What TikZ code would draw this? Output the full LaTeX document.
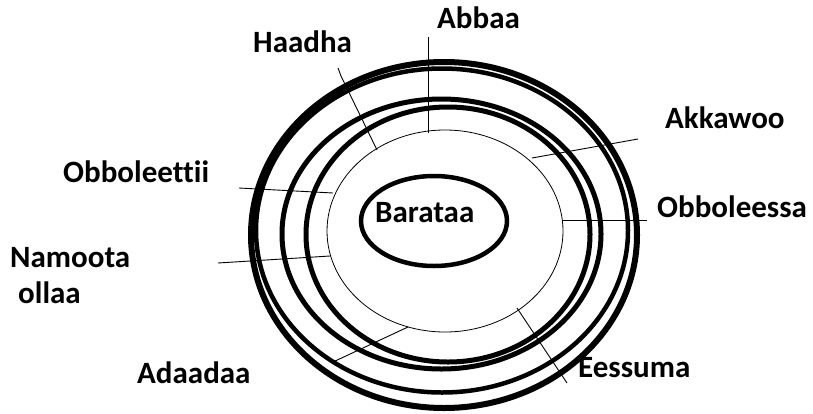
\documentclass[tikz,border=0pt]{standalone}
\usepackage{fontspec}
\newfontfamily\labfont[Ligatures={NoCommon}]{Carlito}
\tikzset{
  lab/.style={inner sep=0pt, anchor=base west, font=\labfont\bfseries\fontsize{31}{36}\selectfont},
  ring/.style={draw=black, line width=#1},
  spoke/.style={draw=black, line width=0.9pt}
}
\begin{document}
\begin{tikzpicture}[x=1pt,y=-1pt]
\useasboundingbox (0,0) rectangle (813,413);
% rings
\draw[ring=6pt] (444,235) ellipse [x radius=193pt, y radius=173pt];
\draw[ring=4.5pt] (442,230.5) ellipse [x radius=186pt, y radius=162pt];
\draw[ring=5pt] (441.5,234) ellipse [x radius=159.5pt, y radius=135pt];
\draw[ring=5pt] (448,234.5) ellipse [x radius=142pt, y radius=127.5pt];
\draw[ring=0.8pt] (445,231) ellipse [x radius=118pt, y radius=101pt];
\draw[ring=4.5pt] (434,221) ellipse [x radius=73pt, y radius=45pt];
% labels
\node[lab] (barataa) at (375,222) {Barataa};
\node[lab] (abbaa) at (437,28) {Abbaa};
\node[lab] (haadha) at (253,52) {Haadha};
\node[lab] (akkawoo) at (665,128) {Akkawoo};
\node[lab] (obboleessa) at (657,217) {Obboleessa};
\node[lab] (obboleettii) at (63,182) {Obboleettii};
\node[lab] (namoota) at (10,267) {Namoota};
\node[lab] (ollaa) at (18,303) {ollaa};
\node[lab] (adaadaa) at (137,383) {Adaadaa};
\node[lab] (eessuma) at (578,377) {Eessuma};
% spoke end points
\coordinate (ab1) at (428,37);   \coordinate (ab2) at (428,133);
\coordinate (ha1) at (338,68);   \coordinate (ha2) at (341,76);  \coordinate (ha3) at (377,150);
\coordinate (ot1) at (239,188);  \coordinate (ot2) at (333,193);
\coordinate (na1) at (218,263);  \coordinate (na2) at (330,256);
\coordinate (ad1) at (333,362);  \coordinate (ad2) at (408,327);
\coordinate (ee1) at (517,308);  \coordinate (ee2) at (567,383);
\coordinate (ak1) at (638,139);  \coordinate (ak2) at (532,158);
\coordinate (os1) at (562,220);  \coordinate (os2) at (647,220);
% spokes
\draw[spoke] (ab1) -- (ab2);
\draw[spoke] (ha1) -- (ha2) -- (ha3);
\draw[spoke] (ot1) -- (ot2);
\draw[spoke] (na1) -- (na2);
\draw[spoke] (ad1) -- (ad2);
\draw[spoke] (ee1) -- (ee2);
\draw[spoke] (ak1) -- (ak2);
\draw[spoke] (os1) -- (os2);
\end{tikzpicture}
\end{document}
